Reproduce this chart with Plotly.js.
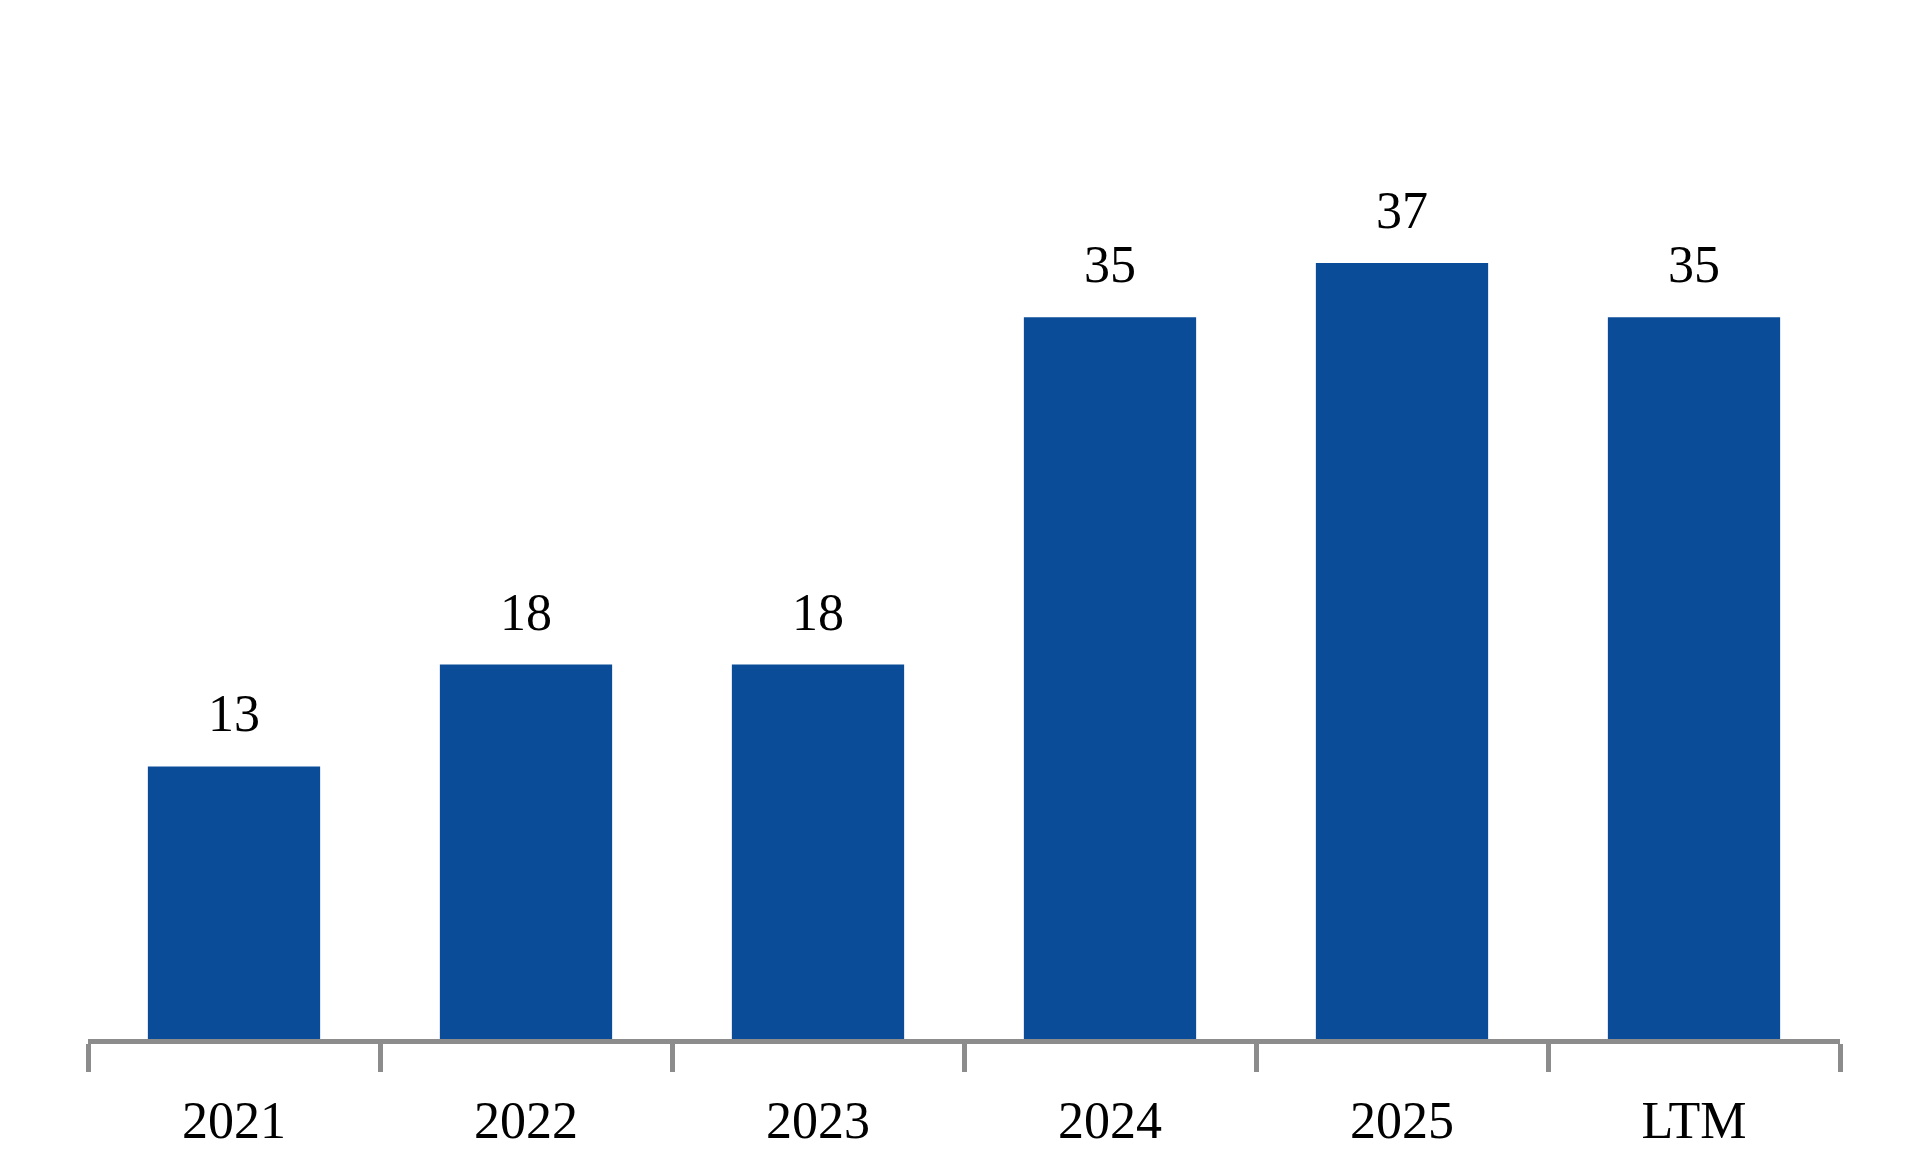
<!DOCTYPE html>
<html>
<head>
<meta charset="utf-8">
<script src="https://cdn.plot.ly/plotly-3.0.1.min.js"></script>
<style>
  html, body { margin: 0; padding: 0; background: white; }
  #chart { width: 1926px; height: 1152px; }
</style>
</head>
<body>
<div id="chart"></div>
<script>
// Values (labels are rounded)
const categories = ['2021', '2022', '2023', '2024', '2025', 'LTM'];
const values = [13.1, 18.0, 18.0, 34.7, 37.3, 34.7];

const barColor = '#0B4C99';
const axisGray = '#8C8C8C';
const serif = 'Liberation Serif, Times New Roman, serif';

const bars = {
  type: 'bar',
  x: categories,
  y: values,
  marker: { color: barColor, line: { width: 0 } },
  hoverinfo: 'skip'
};

// value labels above each bar (x by category index, since '2021' etc. look numeric)
const labels = categories.map((c, i) => ({
  x: i,
  y: values[i],
  xref: 'x',
  yref: 'y',
  text: values[i].toFixed(0),
  showarrow: false,
  yanchor: 'bottom',
  yshift: 22,
  font: { family: serif, size: 52, color: '#000' }
}));

Plotly.newPlot('chart', [bars], {
  width: 1926,
  height: 1152,
  margin: { t: 100, r: 86, b: 113, l: 88 },
  bargap: 0.41,
  showlegend: false,
  paper_bgcolor: 'white',
  plot_bgcolor: 'white',
  xaxis: {
    type: 'category',
    range: [-0.5, 5.5],
    showline: true,
    linecolor: axisGray,
    linewidth: 5,
    ticks: 'outside',
    tickson: 'boundaries',
    ticklen: 28,
    tickwidth: 5,
    tickcolor: axisGray,
    showgrid: false,
    zeroline: false,
    ticklabelstandoff: 32,
    tickfont: { family: serif, size: 52, color: '#000' }
  },
  yaxis: {
    range: [0, 45.14],
    visible: false,
    showgrid: false,
    zeroline: false
  },
  annotations: labels
}, { displayModeBar: false, staticPlot: true });
</script>
</body>
</html>
